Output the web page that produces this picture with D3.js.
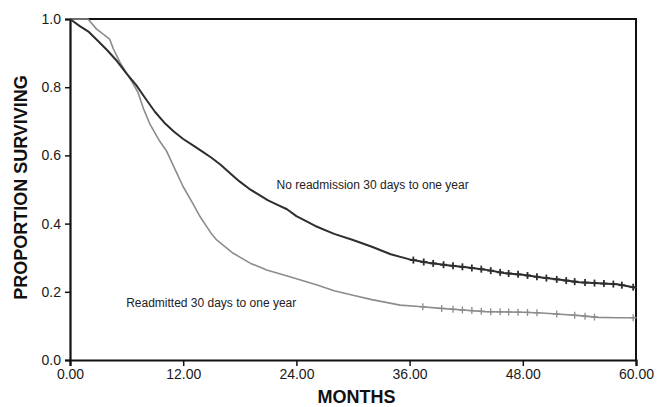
<!DOCTYPE html>
<html>
<head>
<meta charset="utf-8">
<script src="https://cdn.jsdelivr.net/npm/d3@7"></script>
<style>
  body { margin: 0; background: #fff; }
  svg { display: block; font-family: "Liberation Sans", Arial, sans-serif; }
  .tick text { fill: #1a1a1a; font-size: 14px; }
  .xy-title { font-weight: bold; font-size: 18px; fill: #111; }
  .curve-label { font-size: 12px; fill: #222; }
</style>
</head>
<body>
<svg width="664" height="407"></svg>
<script>
const width = 664;
const height = 407;

// survival estimates (months, proportion)
const noReadmitMonths = [0, 1, 2, 3, 4, 5, 6, 7, 8, 9, 10, 11, 12, 13, 14, 15, 16, 17, 18, 19, 20, 21, 22, 23, 24, 26, 28, 30, 32, 34, 36, 38, 40, 42, 44, 46, 48, 50, 52, 54, 56, 58, 60];
const noReadmitSurv = [1.0, 0.98, 0.962, 0.935, 0.907, 0.876, 0.84, 0.807, 0.767, 0.728, 0.696, 0.67, 0.648, 0.63, 0.612, 0.593, 0.572, 0.547, 0.523, 0.502, 0.485, 0.468, 0.455, 0.442, 0.422, 0.393, 0.37, 0.352, 0.332, 0.31, 0.295, 0.285, 0.278, 0.272, 0.265, 0.255, 0.25, 0.242, 0.235, 0.228, 0.225, 0.222, 0.212];
const noReadmitCensor = [36.4, 37.5, 38.5, 39.6, 40.6, 41.6, 42.6, 43.6, 44.6, 45.6, 46.5, 47.5, 48.5, 49.5, 50.5, 51.6, 52.6, 53.5, 54.6, 55.6, 56.6, 57.6, 58.5, 59.7];

const readmitMonths = [0, 1.9, 2.8, 4.2, 4.6, 5.3, 6.5, 7.2, 7.8, 8.5, 9.5, 10.25, 11, 12, 13, 13.8, 15, 15.55, 17.3, 19.1, 20.85, 23.3, 26.2, 28, 30, 32, 35, 37, 39, 42, 44, 48, 50, 52, 54, 56, 58, 60];
const readmitSurv = [1.0, 1.0, 0.971, 0.941, 0.912, 0.873, 0.819, 0.785, 0.736, 0.69, 0.642, 0.612, 0.567, 0.508, 0.46, 0.42, 0.37, 0.352, 0.313, 0.284, 0.264, 0.244, 0.22, 0.203, 0.19, 0.177, 0.161, 0.157, 0.152, 0.146, 0.142, 0.14, 0.138, 0.134, 0.13, 0.125, 0.124, 0.124];
const readmitCensor = [37.4, 39.4, 40.6, 41.6, 42.6, 43.6, 44.6, 45.6, 46.5, 47.5, 48.5, 49.5, 51.6, 53.5, 54.6, 55.6, 59.7];

const xTicks = [0, 12, 24, 36, 48, 60];
const yTicks = [0, 0.2, 0.4, 0.6, 0.8, 1.0];

const svg = d3.select('svg');
const margin = { top: 19, right: 28, bottom: 47, left: 70 };
const innerWidth = width - margin.left - margin.right;
const innerHeight = height - margin.top - margin.bottom;

const xScale = d3.scaleLinear().domain([0, 60]).range([0, innerWidth]);
const yScale = d3.scaleLinear().domain([0, 1]).range([innerHeight, 0]);

const g = svg.append('g')
    .attr('transform', 'translate(' + margin.left + ', ' + margin.top + ')');

// frame (top and right)
g.append('path')
    .attr('d', 'M0,0H' + innerWidth + 'V' + innerHeight)
    .attr('fill', 'none')
    .attr('stroke', '#111')
    .attr('stroke-width', 2);

const yAxisG = g.append('g')
    .call(d3.axisLeft(yScale).tickValues(yTicks).tickFormat(d3.format('.1f')).tickSize(5).tickPadding(4));
const xAxisG = g.append('g')
    .attr('transform', 'translate(0, ' + innerHeight + ')')
    .call(d3.axisBottom(xScale).tickValues(xTicks).tickFormat(d3.format('.2f')).tickSize(6).tickPadding(3));

[xAxisG, yAxisG].forEach(a => {
    a.select('.domain').attr('stroke', '#111').attr('stroke-width', 2.2);
    a.selectAll('.tick line').attr('stroke', '#111').attr('stroke-width', 1.5);
});

yAxisG.append('text')
    .text('PROPORTION SURVIVING')
    .attr('class', 'xy-title')
    .attr('x', -innerHeight / 2 + 2)
    .attr('y', -43)
    .attr('text-anchor', 'middle')
    .attr('transform', 'rotate(-90)');

xAxisG.append('text')
    .text('MONTHS')
    .attr('class', 'xy-title')
    .attr('x', xScale(30) + 3.5)
    .attr('y', 43)
    .attr('text-anchor', 'middle');

const line = d3.line()
    .x(d => xScale(d[0]))
    .y(d => yScale(d[1]));

const series = [
    { t: readmitMonths, s: readmitSurv, c: readmitCensor, color: '#8c8c8c', w: 1.6, cw: 1.3 },
    { t: noReadmitMonths, s: noReadmitSurv, c: noReadmitCensor, color: '#2e2e2e', w: 2, cw: 1.8 }
];

series.forEach(sr => {
    const pts = sr.t.map((t, i) => [t, sr.s[i]]);
    g.append('path')
        .datum(pts)
        .attr('d', line)
        .attr('fill', 'none')
        .attr('stroke', sr.color)
        .attr('stroke-width', sr.w)
        .attr('stroke-linejoin', 'round');

    // censored observations sit on the curve
    const lookup = d3.scaleLinear().domain(sr.t).range(sr.s);
    const marks = g.append('g').selectAll('g')
        .data(sr.c)
        .enter()
        .append('g')
        .attr('transform', d => 'translate(' + xScale(d) + ', ' + yScale(lookup(d)) + ')')
        .attr('stroke', sr.color)
        .attr('stroke-width', sr.cw);
    marks.append('line').attr('x1', -3.5).attr('x2', 3.5);
    marks.append('line').attr('y1', -3.5).attr('y2', 3.5);
});

g.append('text')
    .text('No readmission 30 days to one year')
    .attr('class', 'curve-label')
    .attr('x', xScale(21.9))
    .attr('y', yScale(0.5) - 1);

g.append('text')
    .text('Readmitted 30 days to one year')
    .attr('class', 'curve-label')
    .attr('x', xScale(5.95))
    .attr('y', yScale(0.155));
</script>
</body>
</html>
